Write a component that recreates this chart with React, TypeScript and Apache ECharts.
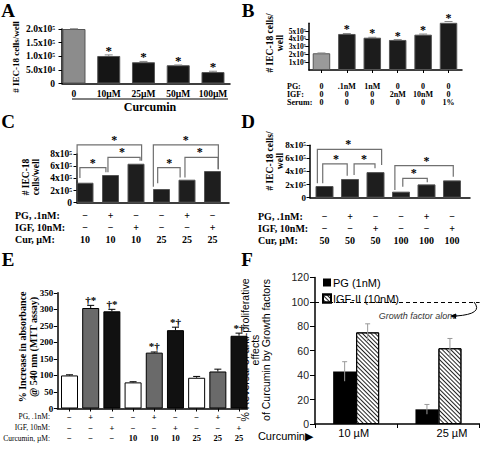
import React, { useEffect, useRef } from 'react';
import * as echarts from 'echarts';

// ---------------- DATA ----------------
// Panel A: cells/well (x10^5) vs curcumin
const aCategories = ['0', '10µM', '25µM', '50µM', '100µM'];
const aValues = [2.0, 1.01, 0.78, 0.67, 0.42];
const aErrors = [0.01, 0.04, 0.03, 0.01, 0.03];
const aStars = ['', '*', '*', '*', '*'];
const aYTickLabels = ['0', '5.0x10⁴', '1.0x10⁵', '1.5x10⁵', '2.0x10⁵'];
const aGroupLabel = 'Curcumin';

// Panel B
const bRowHeads = ['PG:', 'IGF:', 'Serum:'];
const bPG = ['0', '.1nM', '1nM', '0', '0', '0'];
const bIGF = ['0', '0', '0', '2nM', '10nM', '0'];
const bSerum = ['0', '0', '0', '0', '0', '1%'];
const bValues = [2.15, 4.63, 4.15, 3.86, 4.54, 6.17];
const bErrors = [0.04, 0.06, 0.05, 0.05, 0.08, 0.06];
const bStars = ['', '*', '*', '*', '*', '*'];
const bYTickLabels = ['0', '1x10⁵', '2x10⁵', '3x10⁵', '4x10⁵', '5x10⁵', '6x10⁵'];

// Panels C and D
const cdRowHeads = ['PG, .1nM:', 'IGF, 10nM:', 'Cur, µM:'];
const cdYTickLabels = ['0', '2x10⁵', '4x10⁵', '6x10⁵', '8x10⁵'];
const cPG = ['−', '+', '−', '−', '+', '−'];
const cIGF = ['−', '−', '+', '−', '−', '+'];
const cCur = ['10', '10', '10', '25', '25', '25'];
const cValues = [3.28, 4.55, 6.4, 2.25, 3.78, 5.2];
// [left x, right x, bracket level, left leg end, right leg end, star x]
const cBrackets = [
  [-0.31, 2.22, 9.5, 3.7, 6.9, 1.15],
  [-0.2, 0.82, 5.75, 4.05, 5.0, 0.3],
  [0.9, 2.16, 7.45, 5.0, 6.9, 1.45],
  [2.68, 5.23, 9.5, 2.6, 5.5, 3.95],
  [2.85, 3.73, 5.75, 3.2, 4.15, 3.3],
  [3.92, 5.22, 7.45, 4.15, 5.5, 4.5],
];
const dPG = ['−', '+', '−', '−', '+', '−'];
const dIGF = ['−', '−', '+', '−', '−', '+'];
const dCur = ['50', '50', '50', '100', '100', '100'];
const dValues = [1.78, 2.85, 3.9, 0.92, 2.03, 2.64];
const dBrackets = [
  [-0.28, 2.24, 7.35, 2.2, 5.0, 0.93],
  [-0.07, 0.89, 5.14, 2.2, 3.35, 0.45],
  [1.16, 1.98, 5.14, 3.46, 4.48, 1.55],
  [2.76, 5.05, 4.9, 1.17, 3.2, 4.0],
  [3.07, 4.03, 2.96, 1.68, 2.35, 3.5],
];

// Panel E
const eRowHeads = ['PG, .1nM:', 'IGF, 10nM:', 'Curcumin, µM:'];
const ePG = ['−', '+', '−', '−', '+', '−', '−', '+', '−'];
const eIGF = ['−', '−', '+', '−', '−', '+', '−', '−', '+'];
const eCur = ['−', '−', '−', '10', '10', '10', '25', '25', '25'];
const eValues = [100, 304, 294, 79, 169, 237, 93, 112, 220];
const eErrors = [2, 8, 6, 2, 2, 9, 4, 7, 8];
const eMarks = ['', '†*', '†*', '', '*†', '*†', '', '', '*†'];

// Panel F
const fCategories = ['10 µM', '25 µM'];
const fSeriesNames = ['PG (1nM)', 'IGF-II (10nM)'];
const fPG = [43, 12];
const fIGF = [75, 62];
const fPGErr = [8, 4];
const fIGFErr = [7, 8];
const fReference = 100;
const fRefLabel = 'Growth factor alone';
const fAxisLead = 'Curcumin▶';

// ---------------- helpers ----------------
const serif = '"Liberation Serif", "Times New Roman", serif';
const sans = '"Liberation Sans", Arial, sans-serif';

function xValueAxis(gi: number, min: number, max: number, n: number, fmt: (i: number) => string, o: any = {}) {
  const idx: number[] = [];
  for (let i = 0; i < n; i++) idx.push(i);
  return {
    type: 'value', gridIndex: gi, min, max,
    axisLine: { show: true, onZero: false, lineStyle: { color: '#000', width: 1.5 } },
    axisTick: { show: !!o.ticks, customValues: idx, length: 3, lineStyle: { color: '#000', width: 1 } },
    axisLabel: {
      show: true, customValues: idx, formatter: (v: number) => fmt(Math.round(v)),
      margin: o.margin ?? 5, fontFamily: serif, fontWeight: 'bold', fontSize: o.fontSize ?? 9,
      color: '#000', lineHeight: o.lineHeight,
    },
    splitLine: { show: false },
  };
}

function yValueAxis(gi: number, max: number, interval: number, labels: string[] | null, o: any = {}) {
  return {
    type: 'value', gridIndex: gi, min: 0, max, interval,
    axisLine: { show: true, onZero: false, lineStyle: { color: '#000', width: 1.5 } },
    axisTick: { show: true, length: o.tick ?? 3.5, lineStyle: { color: '#000', width: 1 } },
    axisLabel: {
      formatter: (v: number) => (labels ? labels[Math.round(v / interval)] ?? '' : String(v)),
      fontFamily: o.font ?? serif, fontWeight: o.weight ?? 'bold', fontSize: o.fontSize ?? 9,
      color: o.color ?? '#000', margin: o.margin ?? 5, lineHeight: o.lineHeight,
    },
    splitLine: { show: false },
  };
}

function errorMarks(gi: number, values: number[], errs: number[], marks: string[] | null, o: any = {}) {
  const color = o.color ?? '#000';
  const cap = o.cap ?? 3;
  const font = o.font ?? `bold 13px ${serif}`;
  const both = !!o.both;
  const offset = o.offset ?? 0;
  const gap = o.gap ?? 0;
  return {
    type: 'custom', xAxisIndex: gi, yAxisIndex: gi, clip: false, silent: true, z: 10,
    data: values.map((v, i) => [i, v, errs[i]]),
    renderItem: (params: any, api: any) => {
      const i = params.dataIndex;
      const x = api.value(0), v = api.value(1), e = api.value(2);
      const b = api.coord([x, v]);
      const t = api.coord([x, v + e]);
      const lo = api.coord([x, v - e]);
      const cx = b[0] + offset;
      const children: any[] = [];
      if (e > 0) {
        children.push({ type: 'line', shape: { x1: cx, y1: t[1], x2: cx, y2: both ? lo[1] : b[1] }, style: { stroke: color, lineWidth: 1 } });
        children.push({ type: 'line', shape: { x1: cx - cap, y1: t[1], x2: cx + cap, y2: t[1] }, style: { stroke: color, lineWidth: 1 } });
      }
      const m = marks ? marks[i] : '';
      if (m) children.push({ type: 'text', x: cx, y: t[1] - gap, style: { text: m, font, fill: '#000', align: 'center', verticalAlign: 'bottom' } });
      return { type: 'group', children };
    },
  };
}

function bracketSeries(gi: number, brackets: number[][]) {
  return {
    type: 'custom', xAxisIndex: gi, yAxisIndex: gi, clip: false, silent: true, z: 10,
    data: brackets,
    renderItem: (params: any, api: any) => {
      const x1 = api.value(0), x2 = api.value(1), lvl = api.value(2), l = api.value(3), r = api.value(4), sx = api.value(5);
      const p1 = api.coord([x1, l]), p2 = api.coord([x1, lvl]), p3 = api.coord([x2, lvl]), p4 = api.coord([x2, r]);
      const s = api.coord([sx, lvl]);
      return {
        type: 'group',
        children: [
          { type: 'polyline', shape: { points: [p1, p2, p3, p4] }, style: { stroke: '#707070', lineWidth: 1.2, fill: 'none' } },
          { type: 'text', x: s[0], y: s[1] + 1, style: { text: '*', font: `bold 12px ${serif}`, fill: '#000', align: 'center', verticalAlign: 'bottom' } },
        ],
      };
    },
  };
}

function barSeries(gi: number, values: number[], width: number, colorOf: (i: number) => string, border = '#555') {
  return {
    type: 'bar', xAxisIndex: gi, yAxisIndex: gi, barWidth: width,
    data: values.map((v, i) => ({ value: [i, v], itemStyle: { color: colorOf(i), borderColor: colorOf(i) === '#fff' ? '#000' : border, borderWidth: 1 } })),
  };
}

function txt(text: string, x: number, y: number, font: string, o: any = {}) {
  return {
    type: 'text', x, y, rotation: o.rotation ?? 0, silent: true,
    style: { text, font, fill: o.fill ?? '#000', align: o.align ?? 'center', verticalAlign: o.va ?? 'middle', lineHeight: o.lineHeight },
  };
}

function buildOption() {
  const grids = [
    { left: 62, top: 29, width: 168, height: 54.5 },
    { left: 309, top: 23.3, width: 153, height: 46.7 },
    { left: 77, top: 154, width: 152, height: 48.7 },
    { left: 310, top: 145.2, width: 160, height: 52.5 },
    { left: 57.3, top: 292.8, width: 190, height: 115.7 },
    { left: 315, top: 277.4, width: 164.6, height: 146.6 },
  ].map((g) => ({ ...g, containLabel: false, outerBoundsMode: 'none' }));

  const hatch = { symbol: 'rect', symbolSize: 1, color: '#222', backgroundColor: '#fff', dashArrayX: [1, 0], dashArrayY: [0.9, 1.5], rotation: Math.PI / 4 };

  const xAxis: any[] = [
    xValueAxis(0, -0.345, 4.49, aCategories.length, (i) => aCategories[i], { margin: 5, fontSize: 9.5 }),
    xValueAxis(1, -0.49, 5.53, bPG.length, (i) => `${bPG[i]}\n${bIGF[i]}\n${bSerum[i]}`, { margin: 12.5, fontSize: 8, lineHeight: 8, ticks: true }),
    xValueAxis(2, -0.314, 5.647, cPG.length, (i) => `${cPG[i]}\n${cIGF[i]}\n${cCur[i]}`, { margin: 6.3, fontSize: 10, lineHeight: 12 }),
    xValueAxis(3, -0.569, 5.706, dPG.length, (i) => `${dPG[i]}\n${dIGF[i]}\n${dCur[i]}`, { margin: 12.3, fontSize: 10, lineHeight: 12 }),
    xValueAxis(4, -0.576, 8.39, ePG.length, (i) => `${ePG[i]}\n${eIGF[i]}\n${eCur[i]}`, { margin: 3.2, fontSize: 8.5, lineHeight: 10.7, ticks: true }),
    {
      type: 'category', gridIndex: 5, data: fCategories, boundaryGap: true,
      axisLine: { show: true, lineStyle: { color: '#000', width: 1.5 } },
      axisTick: { show: true, length: 4, lineStyle: { color: '#000' } },
      axisLabel: {
        margin: 3.5, interval: 0,
        formatter: (v: string, i: number) => `{c${i}|${v}}`,
        rich: {
          c0: { fontFamily: sans, fontSize: 11, color: '#000', padding: [0, 5, 0, 0] },
          c1: { fontFamily: sans, fontSize: 11, color: '#000', padding: [0, 0, 0, 27] },
        },
      },
    },
  ];

  const yAxis: any[] = [
    yValueAxis(0, 2, 0.5, aYTickLabels, { fontSize: 9.5, margin: 7 }),
    yValueAxis(1, 6, 1, bYTickLabels, { fontSize: 7.5, margin: 3, lineHeight: 7.8 }),
    yValueAxis(2, 8, 2, cdYTickLabels, { fontSize: 9.5, margin: 5 }),
    yValueAxis(3, 8, 2, cdYTickLabels, { fontSize: 9, margin: 4 }),
    yValueAxis(4, 350, 50, null, { fontSize: 9, margin: 4 }),
    yValueAxis(5, 120, 20, null, { font: sans, weight: 'normal', fontSize: 10.5, color: '#222', margin: 6, tick: 5 }),
  ];

  const eColor = (i: number) => (ePG[i] === '+' ? '#6a6a6a' : eIGF[i] === '+' ? '#111' : '#fff');

  const series: any[] = [
    barSeries(0, aValues, 23, (i) => (i === 0 ? '#8c8c8c' : '#151515')),
    errorMarks(0, aValues, aErrors, aStars, { color: '#888', cap: 4, gap: -2 }),
    barSeries(1, bValues, 17.5, (i) => (i === 0 ? '#9a9a9a' : '#1c1c1c')),
    errorMarks(1, bValues, bErrors, bStars, { color: '#888', cap: 4, gap: -2, font: `bold 12px ${serif}` }),
    barSeries(2, cValues, 17, () => '#1e1e1e'),
    bracketSeries(2, cBrackets),
    barSeries(3, dValues, 18, () => '#1e1e1e'),
    bracketSeries(3, dBrackets),
    barSeries(4, eValues, 17, eColor, '#000'),
    errorMarks(4, eValues, eErrors, eMarks, { color: '#000', cap: 3.5, gap: 0, font: `bold 11px ${serif}` }),
    {
      type: 'bar', name: fSeriesNames[0], xAxisIndex: 5, yAxisIndex: 5, barWidth: 23, barGap: '0%',
      data: fPG, itemStyle: { color: '#000' },
      markLine: {
        silent: true, symbol: 'none', label: { show: false },
        lineStyle: { color: '#000', type: [4, 3], width: 1 },
        data: [{ yAxis: fReference }],
      },
    },
    {
      type: 'bar', name: fSeriesNames[1], xAxisIndex: 5, yAxisIndex: 5, barWidth: 23, barGap: '0%',
      data: fIGF, itemStyle: { color: '#fff', borderColor: '#000', borderWidth: 1, decal: hatch },
    },
    errorMarks(5, fPG, fPGErr, null, { color: '#999', cap: 2.5, both: true, offset: -11.5 }),
    errorMarks(5, fIGF, fIGFErr, null, { color: '#999', cap: 2.5, both: true, offset: 11.5 }),
  ];

  const L = `bold 19px ${serif}`;
  const graphic: any[] = [
    txt('A', 8, 10, L), txt('B', 248, 10, L), txt('C', 8, 121, L), txt('D', 248, 121, L), txt('E', 8, 259, L), txt('F', 247, 259, L),
    // A
    txt('# IEC-18 cells/well', 16, 57, `bold 9px ${serif}`, { rotation: Math.PI / 2 }),
    { type: 'line', silent: true, shape: { x1: 72, y1: 99, x2: 228, y2: 99 }, style: { stroke: '#000', lineWidth: 1 } },
    txt(aGroupLabel, 150, 107, `bold 12px ${serif}`),
    // B
    txt('# IEC-18 cells/\nwell', 275, 43, `bold 9.5px ${serif}`, { rotation: Math.PI / 2, lineHeight: 10 }),
    txt(bRowHeads.join('\n'), 287, 86.5 - 4, `bold 8px ${serif}`, { align: 'left', va: 'top', lineHeight: 8 }),
    // C
    txt('# IEC-18\ncells/well', 30.5, 177, `bold 9.5px ${serif}`, { rotation: Math.PI / 2, lineHeight: 10 }),
    txt(cdRowHeads.join('\n'), 15, 209, `bold 10px ${serif}`, { align: 'left', va: 'top', lineHeight: 12 }),
    // D
    txt('# IEC-18 cells/\nwell', 275, 161, `bold 9.5px ${serif}`, { rotation: Math.PI / 2, lineHeight: 10 }),
    txt(cdRowHeads.join('\n'), 258, 210, `bold 10px ${serif}`, { align: 'left', va: 'top', lineHeight: 12 }),
    // E
    txt('% Increase in absorbance\n@ 540 nm (MTT assay)', 27.5, 347, `bold 10px ${serif}`, { rotation: Math.PI / 2, lineHeight: 11 }),
    txt(eRowHeads.join('\n'), 50, 417 - 5.35, `7.5px ${serif}`, { align: 'right', va: 'top', lineHeight: 10.7 }),
    // F
    txt('% Reversal of anti-proliferative\neffects\nof Curcumin by Growth factors', 255, 350, `10.5px ${sans}`, { rotation: Math.PI / 2, lineHeight: 10.5 }),
    txt(fAxisLead, 313, 436, `11px ${sans}`, { align: 'right' }),
    txt(fRefLabel, 418, 316, `italic 9px ${sans}`, { fill: '#333' }),
    { type: 'bezierCurve', silent: true, shape: { x1: 474, y1: 302, cpx1: 484, cpy1: 314, x2: 456, y2: 316 }, style: { stroke: '#000', lineWidth: 1, fill: 'none' } },
    { type: 'polygon', silent: true, shape: { points: [[450, 316], [456, 313.5], [456, 318.5]] }, style: { fill: '#000' } },
  ];

  return {
    animation: false,
    backgroundColor: '#fff',
    textStyle: { fontFamily: serif },
    grid: grids,
    xAxis,
    yAxis,
    legend: {
      show: true, orient: 'vertical', left: 317, top: 272, itemWidth: 8, itemHeight: 8, itemGap: 5, icon: 'rect',
      selectedMode: false, data: fSeriesNames,
      textStyle: { fontFamily: sans, fontSize: 11, color: '#000', padding: [0, 0, 0, -3] },
    },
    series,
    graphic,
  };
}

export default function App() {
  const ref = useRef<HTMLDivElement>(null);
  useEffect(() => {
    if (!ref.current) return;
    const chart = echarts.init(ref.current, undefined, { renderer: 'svg' });
    chart.setOption(buildOption() as any);
    return () => chart.dispose();
  }, []);
  return <div ref={ref} style={{ position: 'absolute', left: 0, top: 0, width: 480, height: 449 }} />;
}
